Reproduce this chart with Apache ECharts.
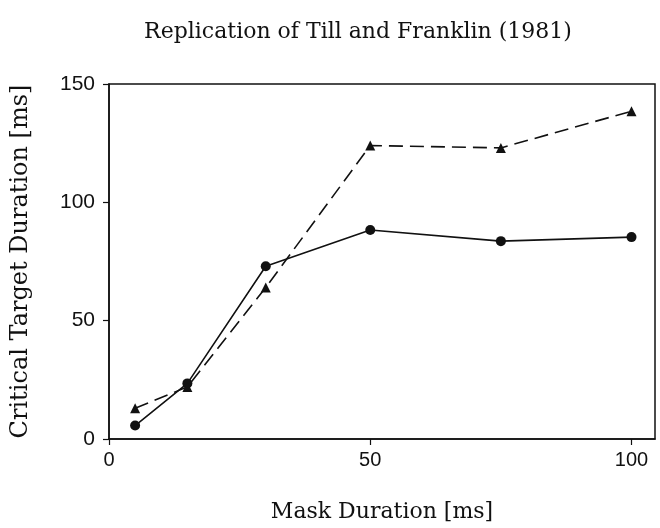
<!DOCTYPE html>
<html>
<head>
<meta charset="utf-8">
<script src="https://cdn.jsdelivr.net/npm/echarts@6/dist/echarts.min.js"></script>
<style>
  html, body { margin: 0; padding: 0; background: #fff; }
  #chart { width: 660px; height: 528px; }
</style>
</head>
<body>
<div id="chart"></div>
<script>
  // mask durations (ms)
  var maskDur = [5, 15, 30, 50, 75, 100];
  // critical target duration, filled circles (solid line)
  var circleVals = [5.7, 23.5, 73.0, 88.3, 83.6, 85.3];
  // critical target duration, triangles (dashed line)
  var triVals = [13.0, 22.0, 64.0, 124.0, 123.0, 138.5];

  var serif = '"DejaVu Serif", "Liberation Serif", serif';
  var sans = '"Liberation Sans", Arial, sans-serif';

  function pairs(xs, ys) {
    var out = [];
    for (var i = 0; i < xs.length; i++) out.push([xs[i], ys[i]]);
    return out;
  }

  var chart = echarts.init(document.getElementById('chart'));
  var option = {
    backgroundColor: '#fff',
    animation: false,
    title: {
      text: 'Replication of Till and Franklin (1981)',
      left: 353,
      textAlign: 'center',
      top: 16,
      textStyle: { fontFamily: serif, fontWeight: 'normal', fontSize: 22, color: '#111' }
    },
    grid: {
      left: 109, right: 5, top: 84, bottom: 86,
      show: true, borderColor: '#111', borderWidth: 1.5
    },
    xAxis: {
      type: 'value',
      min: 0, max: 104.5, interval: 50,
      name: 'Mask Duration [ms]',
      nameLocation: 'middle',
      nameGap: 62,
      nameTextStyle: { fontFamily: serif, fontSize: 22, color: '#111' },
      axisLine: { show: true, lineStyle: { color: '#111', width: 1.5 } },
      axisTick: { show: true, length: 6, lineStyle: { color: '#111', width: 1.2 } },
      axisLabel: { showMaxLabel: false, margin: 11, fontFamily: sans, fontSize: 20, color: '#111' },
      splitLine: { show: false }
    },
    yAxis: {
      type: 'value',
      min: 0, max: 150, interval: 50,
      name: 'Critical Target Duration [ms]',
      nameLocation: 'middle',
      nameGap: 76,
      nameTextStyle: { fontFamily: serif, fontSize: 24, color: '#111' },
      axisLine: { show: true, lineStyle: { color: '#111', width: 1.5 } },
      axisTick: { show: true, length: 6, lineStyle: { color: '#111', width: 1.2 } },
      axisLabel: { margin: 14, fontFamily: sans, fontSize: 21, color: '#111' },
      splitLine: { show: false }
    },
    series: [
      {
        type: 'line',
        data: pairs(maskDur, circleVals),
        symbol: 'circle',
        symbolSize: 10,
        itemStyle: { color: '#111' },
        lineStyle: { color: '#111', width: 1.6, type: 'solid' }
      },
      {
        type: 'line',
        data: pairs(maskDur, triVals),
        symbol: 'triangle',
        symbolSize: 10,
        itemStyle: { color: '#111' },
        lineStyle: { color: '#111', width: 1.6, type: [14, 7] }
      }
    ]
  };
  chart.setOption(option);
</script>
</body>
</html>
